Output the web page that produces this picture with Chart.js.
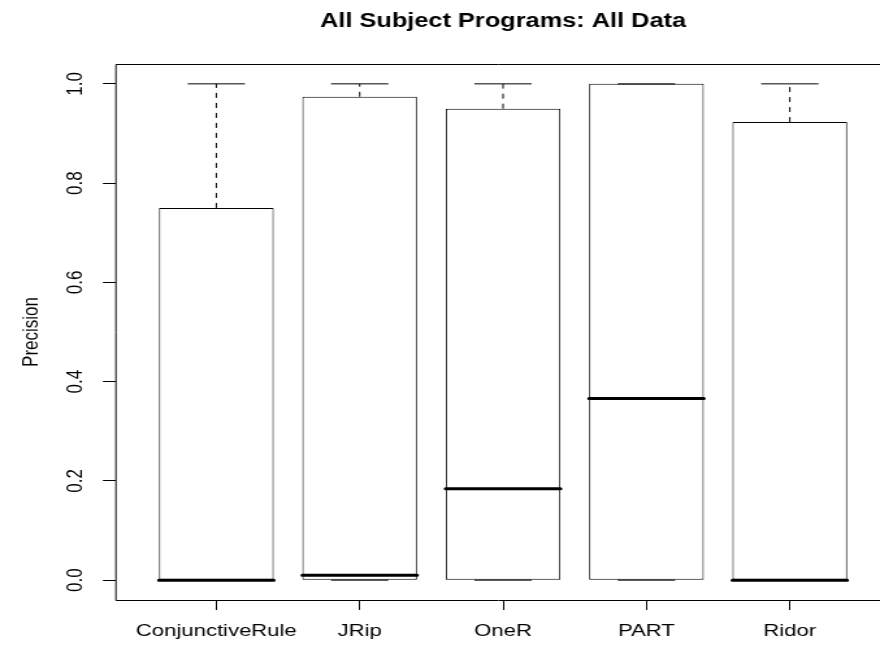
<!DOCTYPE html>
<html>
<head>
<meta charset="utf-8">
<script src="https://cdn.jsdelivr.net/npm/chart.js@4/dist/chart.umd.min.js"></script>
<style>
  html, body { margin: 0; padding: 0; background: #fff; overflow: hidden; }
</style>
</head>
<body>
<!-- the R output is stretched sideways, so draw at 677 wide and show it at 880 -->
<canvas id="box" width="677" height="647" style="width:880px;height:647px"></canvas>
<script>
const chartTitle = 'All Subject Programs: All Data';
const yAxisTitle = 'Precision';

const categories = ['ConjunctiveRule', 'JRip', 'OneR', 'PART', 'Ridor'];
const lowerWhisker = [0, 0, 0, 0, 0];
const lowerQuartile = [0, 0, 0, 0, 0];
const medians = [0, 0.01, 0.184, 0.366, 0];
const upperQuartile = [0.75, 0.974, 0.95, 1.0, 0.923];
const upperWhisker = [1, 1, 1, 1, 1];

const yTickValues = [0, 0.2, 0.4, 0.6, 0.8, 1.0];
const yTickLabels = ['0.0', '0.2', '0.4', '0.6', '0.8', '1.0'];

const FONT = '"Liberation Sans", Arial, Helvetica, sans-serif';
const BOX_HALF = 0.4;
const CAP_HALF = 0.2;

// turn a list of [[x1,y1],[x2,y2]] segments into one line with gaps
function toSegments(list) {
  const pts = [];
  list.forEach(seg => {
    pts.push({ x: seg[0][0], y: seg[0][1] });
    pts.push({ x: seg[1][0], y: seg[1][1] });
    pts.push({ x: seg[1][0], y: null });
  });
  return pts;
}

const medianSegs = categories.map((c, i) => [[i + 1 - BOX_HALF, medians[i]], [i + 1 + BOX_HALF, medians[i]]]);
const whiskerSegs = [];
const capSegs = [];
categories.forEach((c, i) => {
  whiskerSegs.push([[i + 1, upperQuartile[i]], [i + 1, upperWhisker[i]]]);
  whiskerSegs.push([[i + 1, lowerQuartile[i]], [i + 1, lowerWhisker[i]]]);
  capSegs.push([[i + 1 - CAP_HALF, upperWhisker[i]], [i + 1 + CAP_HALF, upperWhisker[i]]]);
  capSegs.push([[i + 1 - CAP_HALF, lowerWhisker[i]], [i + 1 + CAP_HALF, lowerWhisker[i]]]);
});

const framePlugin = {
  id: 'frameAndTitle',
  afterDraw(chart) {
    const { ctx, chartArea } = chart;
    ctx.save();
    ctx.strokeStyle = '#000';
    ctx.lineWidth = 1;
    ctx.beginPath();
    ctx.moveTo(chartArea.right + 1, chartArea.top + 0.5);
    ctx.lineTo(chartArea.left, chartArea.top + 0.5);
    ctx.lineTo(chartArea.left, chartArea.bottom + 0.5);
    ctx.lineTo(chartArea.right + 1, chartArea.bottom + 0.5);
    ctx.stroke();

    ctx.fillStyle = '#000';
    ctx.font = 'bold 19.5px ' + FONT;
    ctx.textAlign = 'center';
    ctx.textBaseline = 'middle';
    ctx.fillText(chartTitle, chart.scales.x.getPixelForValue((categories.length + 1) / 2), 21.7);
    ctx.restore();
  }
};

const ctx = document.getElementById('box').getContext('2d');
new Chart(ctx, {
  type: 'bar',
  data: {
    datasets: [
      {
        type: 'line', order: 0,
        data: toSegments(medianSegs),
        borderColor: '#000', borderWidth: 3, borderCapStyle: 'round',
        pointRadius: 0, spanGaps: false
      },
      {
        type: 'line', order: 1,
        data: toSegments(whiskerSegs),
        borderColor: '#000', borderWidth: 1, borderDash: [5, 5],
        pointRadius: 0, spanGaps: false
      },
      {
        type: 'line', order: 2,
        data: toSegments(capSegs),
        borderColor: '#000', borderWidth: 1,
        pointRadius: 0, spanGaps: false
      },
      {
        type: 'bar', order: 3,
        data: categories.map((c, i) => ({ x: i + 1, y: [lowerQuartile[i], upperQuartile[i]] })),
        backgroundColor: '#fff', borderColor: '#000', borderWidth: 1, borderSkipped: false,
        categoryPercentage: 1, barPercentage: 2 * BOX_HALF
      }
    ]
  },
  options: {
    responsive: false,
    devicePixelRatio: 1,
    animation: false,
    layout: { padding: { top: 64, left: 0, right: 0, bottom: 0 } },
    plugins: { legend: { display: false }, tooltip: { enabled: false }, title: { display: false } },
    scales: {
      x: {
        type: 'linear',
        min: 0.3,
        max: 0.3 + (677 - 89.2) / 110.3,
        offset: false,
        grid: { display: true, offset: false, drawOnChartArea: false, drawTicks: true, tickLength: 10, tickColor: '#000', color: '#000' },
        border: { display: false },
        afterBuildTicks: s => { s.ticks = categories.map((c, i) => ({ value: i + 1 })); },
        afterFit: s => { s.height = 47; },
        ticks: {
          autoSkip: false, maxRotation: 0, minRotation: 0, padding: 11.5,
          color: '#000', font: { family: FONT, size: 17 },
          callback: (v, i) => categories[i]
        }
      },
      y: {
        type: 'linear',
        min: -0.04,
        max: 1.04,
        grid: { display: true, drawOnChartArea: false, drawTicks: true, tickLength: 10, tickColor: '#000', color: '#000' },
        border: { display: false },
        afterBuildTicks: s => { s.ticks = yTickValues.map(v => ({ value: v })); },
        afterFit: s => { s.width = 89.2; },
        ticks: {
          minRotation: 90, maxRotation: 90, crossAlign: 'center', padding: 9.3,
          color: '#000', font: { family: FONT, size: 17 },
          callback: (v, i) => yTickLabels[i]
        },
        title: {
          display: true, text: yAxisTitle, color: '#000',
          font: { family: FONT, size: 17 }, padding: { top: 14.4, bottom: 0 }
        }
      }
    }
  },
  plugins: [framePlugin]
});
</script>
</body>
</html>
